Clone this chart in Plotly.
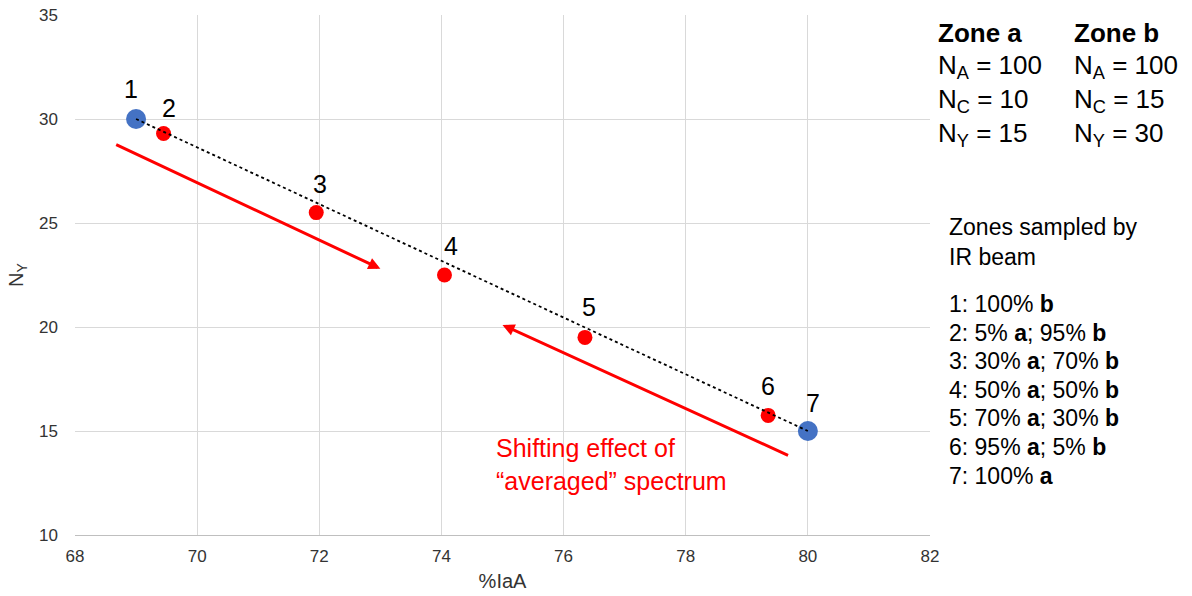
import plotly.graph_objects as go

# Data
labels = ["1", "2", "3", "4", "5", "6", "7"]
x_iaa = [69.0, 69.45, 71.95, 74.05, 76.35, 79.35, 80.0]
n_y = [30.0, 29.3, 25.5, 22.5, 19.5, 15.75, 15.0]
point_kind = ["pure", "mix", "mix", "mix", "mix", "mix", "pure"]

trend_x = [69.0, 80.0]
trend_y = [30.0, 15.0]

# arrows: (start_x, start_y, end_x, end_y)
arrow_down = [68.65, 28.8, 73.0, 22.8]
arrow_up = [79.7, 13.8, 75.0, 20.1]

x_ticks = [68, 70, 72, 74, 76, 78, 80, 82]
y_ticks = [10, 15, 20, 25, 30, 35]

zone_lines = [
    ("<b>Zone a</b>", "<b>Zone b</b>"),
    ("N<sub>A</sub> = 100", "N<sub>A</sub> = 100"),
    ("N<sub>C</sub> = 10", "N<sub>C</sub> = 15"),
    ("N<sub>Y</sub> = 15", "N<sub>Y</sub> = 30"),
]
sample_lines = [
    "1: 100% <b>b</b>",
    "2: 5% <b>a</b>; 95% <b>b</b>",
    "3: 30% <b>a</b>; 70% <b>b</b>",
    "4: 50% <b>a</b>; 50% <b>b</b>",
    "5: 70% <b>a</b>; 30% <b>b</b>",
    "6: 95% <b>a</b>; 5% <b>b</b>",
    "7: 100% <b>a</b>",
]

# label pixel offsets (styling)
label_dx = [-5, 5, 4, 7, 4, 0, 5]
label_dy = [30, 26, 29, 29, 30, 29, 28]

FONT = "Arial, Liberation Sans, sans-serif"
BLUE = "#4472C4"
RED = "#FF0000"

W, H = 1192, 596
ML, MR, MT, MB = 75, 262, 15, 61
PW, PH = W - ML - MR, H - MT - MB


def px(x):
    return (x - ML) / PW


def py(y):
    return (H - MB - y) / PH


fig = go.Figure()

colors = [BLUE if k == "pure" else RED for k in point_kind]
sizes = [20 if k == "pure" else 15 for k in point_kind]
fig.add_trace(go.Scatter(
    x=x_iaa, y=n_y, mode="markers",
    marker=dict(color=colors, size=sizes, opacity=1, line=dict(width=0)),
    showlegend=False))

fig.add_trace(go.Scatter(
    x=trend_x, y=trend_y, mode="lines",
    line=dict(color="black", width=1.8, dash="dot"),
    showlegend=False, hoverinfo="skip"))

annotations = []
for lab, xv, yv, dx, dy in zip(labels, x_iaa, n_y, label_dx, label_dy):
    annotations.append(dict(
        x=xv, y=yv, xref="x", yref="y", text=lab, showarrow=False,
        font=dict(family=FONT, size=25, color="black"),
        xshift=dx, yshift=dy))

for a in (arrow_down, arrow_up):
    annotations.append(dict(
        x=a[2], y=a[3], ax=a[0], ay=a[1], xref="x", yref="y", axref="x", ayref="y",
        text="", showarrow=True, arrowhead=2, arrowsize=0.8, arrowwidth=3,
        arrowcolor=RED))

annotations.append(dict(
    x=px(494), y=py(464), xref="paper", yref="paper",
    text="Shifting effect of<br>\u201caveraged\u201d spectrum",
    showarrow=False, align="left", xanchor="left", yanchor="middle",
    font=dict(family=FONT, size=25, color=RED)))

# Zone table
col_x = [936, 1072]
zone_y = [33, 67, 101, 134]
for (ta, tb), yp in zip(zone_lines, zone_y):
    for cx, t in zip(col_x, (ta, tb)):
        annotations.append(dict(
            x=px(cx), y=py(yp), xref="paper", yref="paper",
            text=t, showarrow=False, xanchor="left", yanchor="middle",
            font=dict(family=FONT, size=26, color="black")))

annotations.append(dict(
    x=px(947), y=py(227), xref="paper", yref="paper",
    text="Zones sampled by", showarrow=False, xanchor="left", yanchor="middle",
    font=dict(family=FONT, size=23, color="black")))
annotations.append(dict(
    x=px(947), y=py(257), xref="paper", yref="paper",
    text="IR beam", showarrow=False, xanchor="left", yanchor="middle",
    font=dict(family=FONT, size=23, color="black")))
for i, t in enumerate(sample_lines):
    yp = 304 + i * 28.6
    annotations.append(dict(
        x=px(947), y=py(yp), xref="paper", yref="paper",
        text=t, showarrow=False, xanchor="left", yanchor="middle",
        font=dict(family=FONT, size=23, color="black")))

fig.update_layout(
    width=W, height=H,
    margin=dict(l=ML, r=MR, t=MT, b=MB, autoexpand=False),
    paper_bgcolor="white", plot_bgcolor="white",
    font=dict(family=FONT, color="#404040"),
    annotations=annotations,
    xaxis=dict(
        range=[68, 82], tickvals=x_ticks, showgrid=True, gridcolor="#D9D9D9",
        gridwidth=1, zeroline=False, showline=True, linecolor="#BFBFBF",
        mirror=False, ticks="", ticklabelstandoff=6,
        tickfont=dict(size=17, color="#333333"),
        title=dict(text="%IaA", font=dict(size=20, color="#333333"), standoff=8)),
    yaxis=dict(
        range=[10, 35], tickvals=y_ticks, showgrid=True, gridcolor="#D9D9D9",
        gridwidth=1, zeroline=False, showline=False, ticks="",
        ticklabelstandoff=16,
        tickfont=dict(size=17, color="#333333"),
        title=dict(text="N<sub>Y</sub>", font=dict(size=20, color="#333333"), standoff=10)),
)

fig.write_html("out.html", config={"displayModeBar": False},
               post_script="document.body.style.margin='0';")
